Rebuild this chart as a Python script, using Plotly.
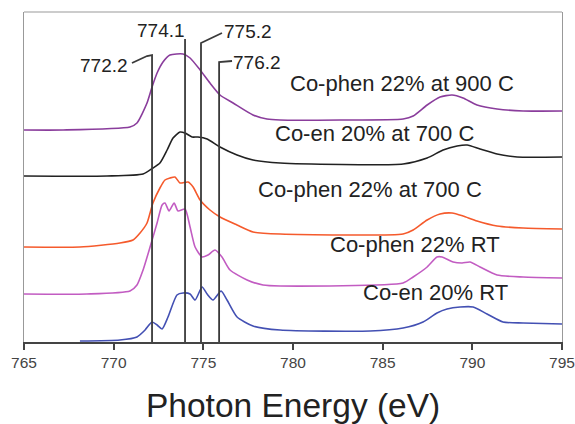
import plotly.graph_objects as go

# ---------------- data (photon energy in eV, offset intensity in a.u.) ----------------
phen900_x = [765.00, 767.18, 770.91, 771.30, 771.86, 772.14, 772.42, 772.75, 773.14, 773.87, 774.26,
             774.82, 775.37, 775.93, 776.66, 777.77, 778.55, 779.28, 782.62, 786.14, 786.70, 787.48,
             788.20, 788.87, 789.48, 790.26, 791.38, 792.83, 795.00]
phen900_y = [213, 213, 216, 220, 240, 256, 270, 281, 288, 289, 285, 273, 260, 248, 240, 228, 224, 223,
             223, 224, 227, 238, 246, 248, 245, 238, 234, 232, 232]

en700_x = [765.00, 769.63, 771.64, 772.19, 772.58, 772.98, 773.31, 773.70, 773.98, 774.37, 774.70,
           775.21, 775.93, 776.88, 777.77, 779.28, 786.14, 787.48, 788.37, 789.15, 789.71, 790.43,
           791.38, 792.50, 795.00]
en700_y = [167, 167, 169, 175, 180, 193, 205, 211, 210, 206, 206, 204, 196, 188, 183, 180, 179, 185,
           193, 197, 198, 194, 189, 186, 186]

phen700_x = [765.00, 768.12, 770.35, 771.08, 771.47, 771.86, 772.19, 772.58, 772.86, 773.14, 773.42,
             773.70, 774.15, 774.43, 774.82, 775.37, 775.93, 776.88, 777.77, 779.28, 786.14, 786.70,
             787.48, 788.20, 788.87, 789.48, 790.26, 791.38, 792.83, 795.00]
phen700_y = [96, 96, 100, 103, 110, 120, 140, 155, 163, 165, 166, 160, 161, 156, 143, 133, 126, 118,
             111, 109, 109, 113, 123, 129, 130, 127, 122, 117, 115, 114]

phenRT_x = [765.00, 768.51, 770.91, 771.30, 771.64, 772.03, 772.42, 772.70, 772.86, 773.09, 773.37,
            773.59, 773.98, 774.26, 774.54, 774.93, 775.26, 775.65, 776.04, 776.49, 777.44, 778.33,
            779.28, 786.14, 786.70, 787.48, 788.03, 788.31, 788.93, 789.43, 789.87, 790.43, 791.38,
            792.83, 795.00]
phenRT_y = [49, 49, 52, 58, 73, 96, 120, 138, 140, 132, 140, 132, 134, 116, 96, 86, 88, 93, 86, 73,
            63, 58, 57, 60, 66, 76, 86, 86, 81, 80, 81, 76, 68, 66, 65]

enRT_x = [768.12, 770.35, 771.30, 771.75, 772.14, 772.42, 772.70, 773.03, 773.53, 773.87, 774.26,
          774.54, 774.93, 775.21, 775.54, 775.99, 776.32, 776.88, 777.77, 779.28, 784.30, 786.14,
          787.25, 788.03, 788.59, 789.32, 790.04, 790.82, 791.71, 792.83, 795.00]
enRT_y = [2, 3, 6, 13, 21, 18, 14, 26, 48, 50, 49, 43, 56, 49, 43, 52, 43, 26, 17, 13, 12, 15, 21,
          30, 34, 36, 36, 29, 21, 20, 19]

series_names = ["Co-phen 22% at 900 C", "Co-en 20% at 700 C", "Co-phen 22% at 700 C",
                "Co-phen 22% RT", "Co-en 20% RT"]
series_colors = ["#8a3d9c", "#222222", "#f55a2c", "#c25cc2", "#4350b3"]
series_label_x = [786.08, 784.52, 784.30, 786.81, 787.92]
series_label_y = [260, 210, 154, 99, 51]

# marker lines: label text, label position, leader path (x, y)
peak_labels = ["772.2", "774.1", "775.2", "776.2"]
peak_label_x = [769.46, 772.64, 777.49, 778.00]
peak_label_y = [278, 313, 312, 281]
peak_path_x = [[771.02, 771.86, 772.14, 772.14],
               [773.98, 773.98],
               [776.04, 774.87, 774.87],
               [776.60, 775.88, 775.88]]
peak_path_y = [[280, 287, 288, 0],
               [304, 0],
               [310, 300, 0],
               [282, 281, 0]]

x_ticks = [765, 770, 775, 780, 785, 790, 795]

# ---------------- figure ----------------
fig = go.Figure()

all_x = [phen900_x, en700_x, phen700_x, phenRT_x, enRT_x]
all_y = [phen900_y, en700_y, phen700_y, phenRT_y, enRT_y]
for xs, ys, name, col in zip(all_x, all_y, series_names, series_colors):
    fig.add_trace(go.Scatter(x=xs, y=ys, mode="lines", name=name,
                             line=dict(color=col, width=1.6, shape="spline", smoothing=0.6),
                             showlegend=False, hoverinfo="skip"))

for px, py in zip(peak_path_x, peak_path_y):
    fig.add_trace(go.Scatter(x=px, y=py, mode="lines",
                             line=dict(color="#3a3a3a", width=1.8),
                             showlegend=False, hoverinfo="skip"))

font_family = "Liberation Sans, Arial, sans-serif"
for txt, lx, ly in zip(series_names, series_label_x, series_label_y):
    fig.add_annotation(x=lx, y=ly, text=txt, showarrow=False, xanchor="center", yanchor="middle",
                       font=dict(family=font_family, size=22, color="#222222"))
for txt, lx, ly in zip(peak_labels, peak_label_x, peak_label_y):
    fig.add_annotation(x=lx, y=ly, text=txt, showarrow=False, xanchor="center", yanchor="middle",
                       font=dict(family=font_family, size=19, color="#222222"))

fig.add_annotation(x=0.5, y=-0.193, xref="paper", yref="paper", text="Photon Energy (eV)",
                   showarrow=False, xanchor="center", yanchor="middle",
                   font=dict(family=font_family, size=33.5, color="#222222"))

# top border
fig.add_shape(type="line", xref="paper", yref="paper", x0=0, x1=1, y0=1, y1=1,
              line=dict(color="#999999", width=1.2))

fig.update_xaxes(range=[765, 795], tickvals=x_ticks, ticktext=[str(t) for t in x_ticks],
                 automargin=False,
                 showgrid=False, zeroline=False, showline=True, linecolor="#444444", linewidth=1.5,
                 ticks="outside", ticklen=6, tickwidth=1.5, tickcolor="#444444",
                 ticklabelstandoff=0,
                 tickfont=dict(family=font_family, size=15.5, color="#444444"))
fig.update_yaxes(range=[1, 331], automargin=False, showticklabels=False, showgrid=False,
                 zeroline=False, showline=True, mirror=True, linecolor="#999999", linewidth=1.2,
                 ticks="")

fig.update_layout(width=575, height=424, autosize=False, margin=dict(l=24, r=13, t=12, b=82),
                  plot_bgcolor="white", paper_bgcolor="white", showlegend=False)

fig.write_html("out.html", config={"displayModeBar": False, "responsive": False},
               post_script="document.body.style.margin='0';"
                           "document.body.style.overflow='hidden';"
                           "document.documentElement.style.overflow='hidden';")
